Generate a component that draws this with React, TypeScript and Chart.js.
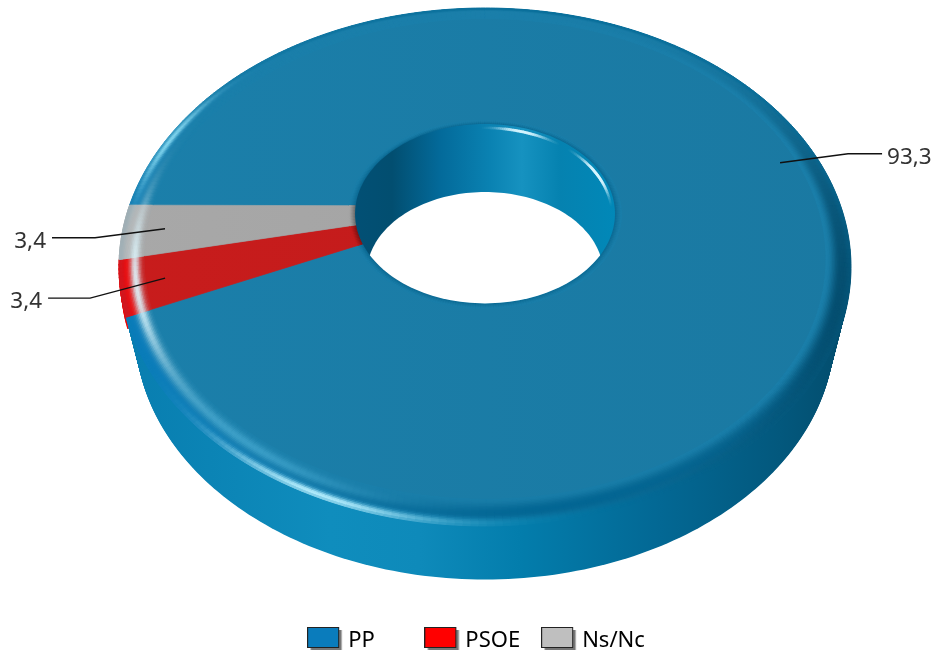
import React, { useEffect, useRef } from "react";
import { Chart, registerables } from "chart.js";

Chart.register(...registerables);

const categories = ["PP", "PSOE", "Ns/Nc"];
const values = [93.3, 3.4, 3.4];
const legendColors = ["#0a7cbc", "#ff0000", "#bfbfbf"];
const faceColors: number[][] = [[27, 127, 170], [200, 28, 28], [168, 168, 168]];
const wallBases: number[][] = [[10, 130, 180], [235, 0, 0], [190, 190, 190]];
const legendPad = [5, 0, 0];
// label leader elbows and ends, relative to the anchor on the slice
const elbowOffset = [[68, -9], [-75, 20], [-70, 9]];
const endOffset = [[102, -9], [-117, 20], [-113, 9]];

// view of the tilted ring
const CX = 485, CY = 206, A = 355.7, B = 244.6, K = 0.2355;
const DEPTH = 68, BOTTOM_SCALE = 0.955, HOLE_DEPTH = 60.7, HOLE_SCALE = 0.91;
const FLAT_R = 0.935, ANCHOR_R = 0.885, SHALLOW = 12;
const FONT = '"Noto Sans"';

type RGB = number[];
const proj = (a: number, R: number, s = 1, dy = 0): [number, number] => {
  const u = R * Math.cos(a), v = R * Math.sin(a), w = 1 - K * v;
  return [CX + (A * u / w) * s, CY + (B * v / w) * s + dy];
};
const mix = (c: RGB, d: RGB, t: number): RGB => {
  const k = Math.max(0, Math.min(1, t));
  return [0, 1, 2].map((i) => c[i] + (d[i] - c[i]) * k);
};
const css = (c: RGB) => `rgb(${c.map((x) => Math.round(x)).join(",")})`;
const hex = (h: string): RGB => [1, 3, 5].map((i) => parseInt(h.slice(i, i + 2), 16));
const gauss = (x: number, m: number, s: number) => Math.exp(-(((x - m) / s) ** 2));
const sstep = (a: number, b: number, x: number) => {
  const t = Math.max(0, Math.min(1, (x - a) / (b - a)));
  return t * t * (3 - 2 * t);
};
const deg = (a: number) => ((((a * 180) / Math.PI) % 360) + 360) % 360;
const angDist = (d: number, m: number) => {
  let x = d - m;
  while (x > 180) x -= 360;
  while (x < -180) x += 360;
  return x;
};
const ag = (d: number, m: number, s: number) => gauss(angDist(d, m), 0, s);

const wallStops: [number, RGB][] = [
  [118, [8, 125, 175]], [330, [15, 141, 189]], [420, [14, 138, 186]], [520, [3, 125, 172]],
  [660, [3, 104, 148]], [780, [3, 88, 125]], [851, [3, 76, 108]],
];
const wallColor = (x: number): RGB => {
  for (let n = 0; n < wallStops.length - 1; n++) {
    const [x0, c0] = wallStops[n], [x1, c1] = wallStops[n + 1];
    if (x <= x1) return mix(c0, c1, (x - x0) / (x1 - x0));
  }
  return wallStops[wallStops.length - 1][1];
};

const bevelColor = (i: number, d: number, t: number, x: number): RGB => {
  const F = faceColors[i];
  const L = hex(legendColors[i]);
  let c = F;
  // left: the slice colour comes through toward the edge
  c = mix(c, L, sstep(0.3, 0.8, t) * ag(d, 145, 45));
  // right: the edge falls into shadow
  c = mix(c, [3, 72, 104], 0.9 * ag(d, 25, 48) * sstep(0.05, 0.6, t));
  // bottom: dark groove, then the wall colour
  c = mix(c, [0, 100, 146], 0.9 * ag(d, 85, 40) * gauss(t, 0.5, 0.3));
  c = mix(c, wallColor(x), ag(d, 80, 55) * sstep(0.6, 0.95, t));
  // far side: only a thin darker line
  c = mix(c, [6, 108, 152], 0.85 * ag(d, 290, 75) * sstep(0.72, 0.98, t));
  c = mix(c, [70, 170, 210], 0.75 * ag(d, 125, 22) * gauss(t, 0.38, 0.22));
  c = mix(c, [225, 248, 255], 0.92 * ag(d, 162, 18) * gauss(t, 0.38, 0.2));
  c = mix(c, [140, 222, 245], 0.9 * ag(d, 197, 12) * gauss(t, 0.82, 0.16));
  c = mix(c, [185, 240, 255], 0.97 * ag(d, 112, 15) * gauss(t, 0.9, 0.13));
  return c;
};

const quad = (ctx: CanvasRenderingContext2D, p: [number, number][], col: string | CanvasGradient, lw = 0.7) => {
  ctx.beginPath();
  p.forEach((q, n) => (n ? ctx.lineTo(q[0], q[1]) : ctx.moveTo(q[0], q[1])));
  ctx.closePath();
  ctx.fillStyle = col;
  ctx.strokeStyle = col;
  ctx.lineWidth = lw;
  ctx.fill();
  ctx.stroke();
};

const ringPlugin = {
  id: "tiltedRing",
  afterLayout(chart: any) {
    chart.legend.top += 11;
    chart.legend.bottom += 11;
  },
  beforeDatasetDraw(chart: any, args: any) {
    const ctx: CanvasRenderingContext2D = chart.ctx;
    const arcs = args.meta.data as any[];
    const ratio = arcs[0].innerRadius / arcs[0].outerRadius;
    const STEP = Math.PI / 180;
    const eachSeg = (arc: any, fn: (a0: number, a1: number) => void) => {
      const n = Math.max(1, Math.ceil((arc.endAngle - arc.startAngle) / STEP));
      const da = (arc.endAngle - arc.startAngle) / n;
      for (let k = 0; k < n; k++) fn(arc.startAngle + k * da, arc.startAngle + (k + 1) * da);
    };
    ctx.save();
    // outer wall: a stack of whole discs from the bottom up, so it has no seams
    const wg = ctx.createLinearGradient(118, 0, 851, 0);
    wallStops.forEach(([x, c]) => wg.addColorStop((x - 118) / 733, css(c)));
    for (let j = DEPTH; j >= 0; j--) {
      const f = j / DEPTH;
      const disc: [number, number][] = [];
      for (let k = 0; k < 360; k += 1) disc.push(proj((k * Math.PI) / 180, 1, 1 + (BOTTOM_SCALE - 1) * f, j));
      ctx.beginPath();
      disc.forEach((q, n) => (n ? ctx.lineTo(q[0], q[1]) : ctx.moveTo(q[0], q[1])));
      ctx.closePath();
      ctx.fillStyle = wg;
      ctx.fill();
    }
    arcs.forEach((arc, i) => {
      if (i === 0) return;
      eachSeg(arc, (a0, a1) =>
        quad(ctx, [proj(a0, 1), proj(a1, 1), proj(a1, 1, 0.995, SHALLOW), proj(a0, 1, 0.995, SHALLOW)], css(wallBases[i]), 1)
      );
    });
    // flat top of every slice
    arcs.forEach((arc, i) => {
      const F = faceColors[i];
      const g = ctx.createLinearGradient(118, 0, 851, 0);
      g.addColorStop(0, css(F));
      g.addColorStop(1, css(mix(F, [0, 0, 0], 0.05)));
      const pts: [number, number][] = [];
      eachSeg(arc, (a0) => pts.push(proj(a0, FLAT_R)));
      pts.push(proj(arc.endAngle, FLAT_R));
      const inner: [number, number][] = [];
      eachSeg(arc, (a0) => inner.push(proj(a0, ratio)));
      inner.push(proj(arc.endAngle, ratio));
      quad(ctx, [...pts, ...inner.reverse()], g);
    });
    // bevel round the outer edge
    const RINGS = 18;
    arcs.forEach((arc, i) =>
      eachSeg(arc, (a0, a1) => {
        const am = (a0 + a1) / 2;
        const d = deg(am);
        for (let r = 0; r < RINGS; r++) {
          const t0 = r / RINGS, t1 = (r + 1) / RINGS;
          const R0 = FLAT_R + (1 - FLAT_R) * t0, R1 = FLAT_R + (1 - FLAT_R) * t1;
          const x = proj(am, (R0 + R1) / 2)[0];
          quad(ctx, [proj(a0, R0), proj(a1, R0), proj(a1, R1), proj(a0, R1)], css(bevelColor(i, d, (t0 + t1) / 2, x)), 1);
        }
      })
    );
    // small bevel round the hole
    arcs.forEach((arc, i) =>
      eachSeg(arc, (a0, a1) => {
        const F = faceColors[i];
        const dark = i === 0 ? [10, 104, 146] : mix(F, [0, 0, 0], 0.4);
        for (let r = 0; r < 6; r++) {
          const t0 = r / 6, t1 = (r + 1) / 6;
          const R0 = ratio * (1 + 0.05 * t0), R1 = ratio * (1 + 0.05 * t1);
          quad(ctx, [proj(a0, R0), proj(a1, R0), proj(a1, R1), proj(a0, R1)], css(mix(F, dark, (1 - (t0 + t1) / 2) ** 1.3)), 1);
        }
      })
    );
    // the hole: its wall first, then the page showing through the opening at the bottom
    const holePath = (s: number, dy: number, path: Path2D) => {
      for (let k = 0; k <= 180; k++) {
        const q = proj((k * Math.PI) / 90, ratio, s, dy);
        k ? path.lineTo(q[0], q[1]) : path.moveTo(q[0], q[1]);
      }
      path.closePath();
    };
    const top = new Path2D();
    holePath(1, 0, top);
    const opening = new Path2D();
    holePath(HOLE_SCALE, HOLE_DEPTH, opening);
    ctx.save();
    ctx.clip(top);
    const hg = ctx.createLinearGradient(354, 0, 615, 0);
    const holeStops: [number, string][] = [
      [354, "#025075"], [392, "#024e70"], [440, "#036a9a"], [490, "#0a82b2"], [522, "#1692c0"],
      [560, "#0582b0"], [615, "#0188b8"],
    ];
    holeStops.forEach(([x, c]) => hg.addColorStop((x - 354) / 261, c));
    ctx.fillStyle = hg;
    ctx.fillRect(340, 110, 290, 220);
    // highlight on the rim of the hole
    ctx.lineCap = "round";
    for (let k = 262; k < 362; k++) {
      const a = (k * Math.PI) / 180, b = ((k + 1) * Math.PI) / 180;
      const alpha = 0.85 * gauss(k, 288, 10) + 0.95 * gauss(k, 336, 11);
      if (alpha < 0.02) continue;
      const p = proj(a, ratio * 0.975, 1, 2), q = proj(b, ratio * 0.975, 1, 2);
      ctx.beginPath();
      ctx.moveTo(p[0], p[1]);
      ctx.lineTo(q[0], q[1]);
      ctx.strokeStyle = `rgba(215,245,255,${alpha})`;
      ctx.lineWidth = 2.8;
      ctx.stroke();
    }
    ctx.fillStyle = "#ffffff";
    ctx.fill(opening);
    ctx.restore();
    // leaders and value labels
    ctx.font = `22.5px ${FONT}`;
    ctx.textBaseline = "middle";
    arcs.forEach((arc, i) => {
      const [ax, ay] = proj((arc.startAngle + arc.endAngle) / 2, ANCHOR_R);
      const ex = ax + endOffset[i][0], ey = ay + endOffset[i][1];
      ctx.beginPath();
      ctx.moveTo(ax, ay);
      ctx.lineTo(ax + elbowOffset[i][0], ay + elbowOffset[i][1]);
      ctx.lineTo(ex, ey);
      ctx.strokeStyle = "#111111";
      ctx.lineWidth = 1.4;
      ctx.stroke();
      ctx.fillStyle = "#333333";
      ctx.textAlign = endOffset[i][0] > 0 ? "left" : "right";
      ctx.fillText(String(values[i]).replace(".", ","), ex + (endOffset[i][0] > 0 ? 5 : -6), ey + 4);
    });
    ctx.restore();
    return false;
  },
};

const legendSwatch = (color: string) => {
  const c = document.createElement("canvas");
  c.width = 36;
  c.height = 32;
  const x = c.getContext("2d")!;
  x.fillStyle = "#777777";
  x.fillRect(3.5, 5, 31, 20);
  x.fillStyle = color;
  x.fillRect(0.5, 2.5, 31, 20);
  x.strokeStyle = "#222222";
  x.lineWidth = 1;
  x.strokeRect(0.5, 2.5, 31, 20);
  return c;
};

export default function App() {
  const ref = useRef<HTMLCanvasElement>(null);
  useEffect(() => {
    const chart = new Chart(ref.current!, {
      type: "doughnut",
      data: {
        labels: categories,
        datasets: [{ data: values, backgroundColor: legendColors, borderWidth: 0 }],
      },
      plugins: [ringPlugin],
      options: {
        responsive: false,
        animation: false,
        rotation: -89.8,
        cutout: "36.4%",
        layout: { padding: { left: 23, bottom: 0 } },
        plugins: {
          tooltip: { enabled: false },
          legend: {
            position: "bottom",
            labels: {
              usePointStyle: true,
              pointStyleWidth: 24,
              padding: 27,
              color: "#333333",
              font: { family: FONT, size: 22 },
              generateLabels: () =>
                categories.map((t, i) => ({
                  text: t + "\u00a0".repeat(legendPad[i]),
                  fillStyle: legendColors[i],
                  pointStyle: legendSwatch(legendColors[i]),
                  strokeStyle: "#222222",
                  lineWidth: 1,
                  index: i,
                  hidden: false,
                })),
            },
          },
        },
      },
    } as any);
    return () => chart.destroy();
  }, []);
  return (
    <div style={{ position: "absolute", left: 0, top: 0, width: 935, height: 651, background: "#fff" }}>
      <canvas ref={ref} width={935} height={651} style={{ display: "block", width: 935, height: 651 }} />
    </div>
  );
}
